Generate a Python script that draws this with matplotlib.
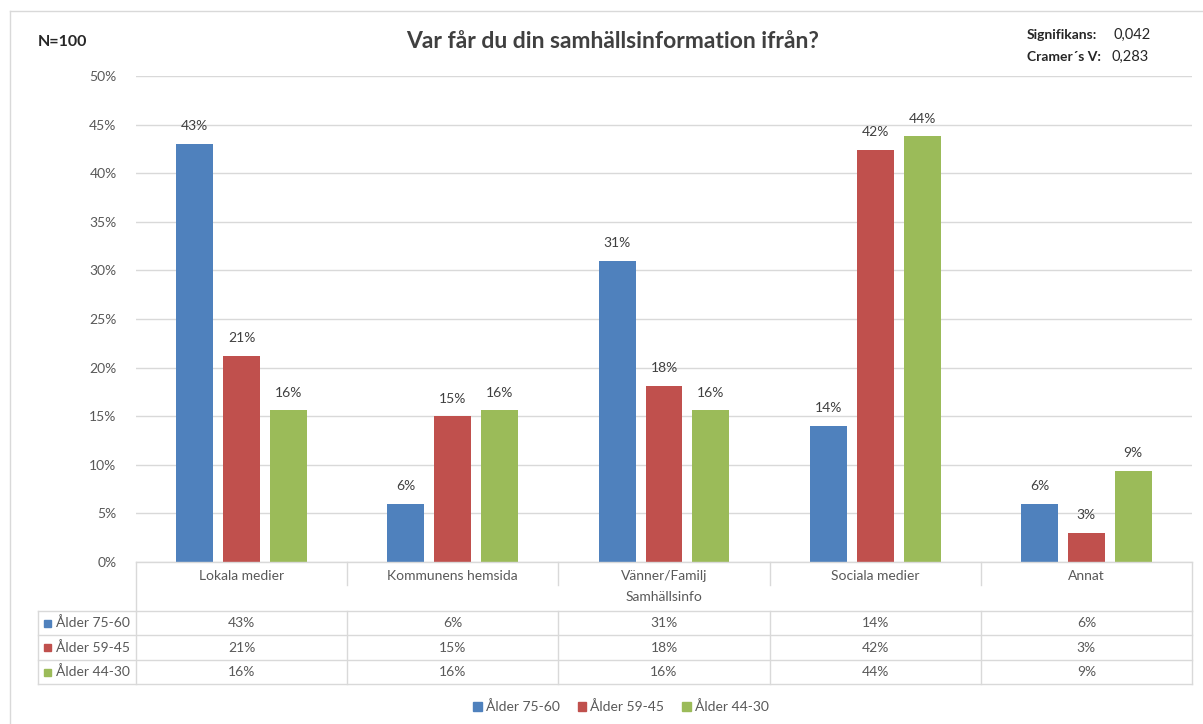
import numpy as np
import matplotlib.pyplot as plt
from matplotlib.lines import Line2D
from matplotlib.patches import Rectangle

plt.rcParams['font.family'] = ['Lato', 'DejaVu Sans']

categories = ["Lokala medier", "Kommunens hemsida", "Vänner/Familj", "Sociala medier", "Annat"]
series = ["Ålder 75-60", "Ålder 59-45", "Ålder 44-30"]
age_75_60 = [43.0, 6.0, 31.0, 14.0, 6.0]
age_59_45 = [21.2, 15.0, 18.1, 42.4, 3.0]
age_44_30 = [15.6, 15.6, 15.6, 43.8, 9.4]
colors = ["#4F81BD", "#C0504D", "#9BBB59"]
yticks = [0, 5, 10, 15, 20, 25, 30, 35, 40, 45, 50]

W, H = 1203, 724
fig = plt.figure(figsize=(W / 100, H / 100), dpi=100)

def fx(px):
    return px / W

def fy(py):
    return 1 - py / H

grid_c = "#D9D9D9"
text_c = "#595959"

# plot area
x0, x1, ytop, ybot = 136, 1192, 76, 562
ax = fig.add_axes([fx(x0), fy(ybot), fx(x1) - fx(x0), fy(ytop) - fy(ybot)])
ax.set_xlim(0, len(categories))
ax.set_ylim(0, 50)
for s in ax.spines.values():
    s.set_visible(False)
ax.set_xticks([])
ax.set_yticks(yticks)
ax.set_yticklabels([f"{t}%" for t in yticks], fontsize=10, color=text_c)
ax.tick_params(axis="y", length=0, pad=14)
ax.yaxis.grid(True, color=grid_c, lw=1)
ax.set_axisbelow(True)

x = np.arange(len(categories)) + 0.5
offs = [-0.222, 0, 0.222]
for vals, c, o in zip([age_75_60, age_59_45, age_44_30], colors, offs):
    bars = ax.bar(x + o, vals, width=0.175, color=c)
    for b, v in zip(bars, vals):
        ax.text(b.get_x() + b.get_width() / 2, v + 1.2, f"{round(v):.0f}%",
                ha="center", va="bottom", fontsize=10, color="#404040")

# data table
def hline(y, xa, xb):
    fig.add_artist(Line2D([fx(xa), fx(xb)], [fy(y), fy(y)], color=grid_c, lw=1))

def vline(xp, ya, yb):
    fig.add_artist(Line2D([fx(xp), fx(xp)], [fy(ya), fy(yb)], color=grid_c, lw=1))

col_w = (x1 - x0) / len(categories)
cols = [x0 + i * col_w for i in range(len(categories) + 1)]
rows = [611, 635, 660, 684]

hline(ybot, x0, x1)
vline(x0, ybot, rows[0])
vline(x1, ybot, rows[0])
for cx in cols[1:-1]:
    vline(cx, ybot, 585)
for i, cat in enumerate(categories):
    fig.text(fx(cols[i] + col_w / 2), fy(576), cat, ha="center", va="center",
             fontsize=10, color=text_c)
fig.text(fx((x0 + x1) / 2), fy(597), "Samhällsinfo", ha="center", va="center",
         fontsize=10, color=text_c)

for r in rows:
    hline(r, 38, x1)
for cx in [38] + cols:
    vline(cx, rows[0], rows[-1])

for j, (name, vals, c) in enumerate(zip(series, [age_75_60, age_59_45, age_44_30], colors)):
    yc = (rows[j] + rows[j + 1]) / 2
    fig.add_artist(Rectangle((fx(44), fy(yc + 3.5)), fx(7), fy(0) - fy(7),
                             color=c, transform=fig.transFigure))
    fig.text(fx(56), fy(yc), name, ha="left", va="center", fontsize=10, color=text_c)
    for i, v in enumerate(vals):
        fig.text(fx(cols[i] + col_w / 2), fy(yc), f"{round(v):.0f}%",
                 ha="center", va="center", fontsize=10, color=text_c)

# bottom legend
handles = [Rectangle((0, 0), 1, 1, color=c) for c in colors]
fig.legend(handles, series, loc="center", bbox_to_anchor=(fx(621), fy(707)),
           ncol=3, frameon=False, fontsize=10, handlelength=0.6, handleheight=0.6,
           handletextpad=0.3, columnspacing=1.3, labelcolor=text_c)

# titles
fig.text(fx(613), fy(42), "Var får du din samhällsinformation ifrån?", ha="center",
         va="center", fontsize=16.5, fontweight="bold", color="#404040")
fig.text(fx(38), fy(42), "N=100", ha="left", va="center", fontsize=11.5,
         fontweight="bold", color="#262626")
fig.text(fx(1027), fy(35), "Signifikans:", ha="left", va="center", fontsize=10,
         fontweight="bold", color="#262626")
fig.text(fx(1113), fy(35), "0,042", ha="left", va="center", fontsize=10.5, color="#262626")
fig.text(fx(1027), fy(57), "Cramer´s V:", ha="left", va="center", fontsize=10,
         fontweight="bold", color="#262626")
fig.text(fx(1111), fy(57), "0,283", ha="left", va="center", fontsize=10.5, color="#262626")

# outer frame
fig.add_artist(Line2D([fx(10), fx(1203)], [fy(11), fy(11)], color=grid_c, lw=1))
fig.add_artist(Line2D([fx(10), fx(10)], [fy(11), fy(724)], color=grid_c, lw=1))

fig.savefig("out.png", dpi=100)
